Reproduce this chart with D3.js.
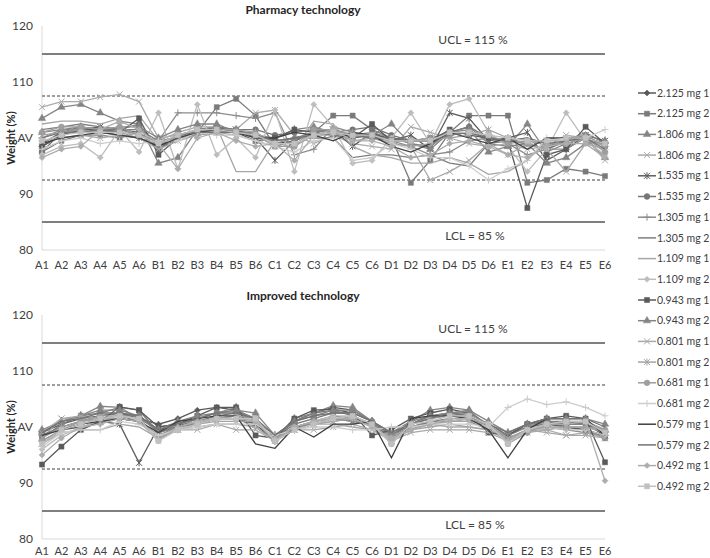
<!DOCTYPE html>
<html>
<head>
<meta charset="utf-8">
<script src="https://cdn.jsdelivr.net/npm/d3@7"></script>
<style>
  body { margin: 0; background: #fff; }
  svg { font-family: Lato, "Open Sans", sans-serif; }
</style>
</head>
<body>
<div id="chart"></div>
<script>
var categories = ["A1","A2","A3","A4","A5","A6","B1","B2","B3","B4","B5","B6",
  "C1","C2","C3","C4","C5","C6","D1","D2","D3","D4","D5","D6","E1","E2","E3","E4","E5","E6"]

var seriesNames = ["2.125 mg 1","2.125 mg 2","1.806 mg 1","1.806 mg 2","1.535 mg 1","1.535 mg 2",
  "1.305 mg 1","1.305 mg 2","1.109 mg 1","1.109 mg 2","0.943 mg 1","0.943 mg 2",
  "0.801 mg 1","0.801 mg 2","0.681 mg 1","0.681 mg 2","0.579 mg 1","0.579 mg 2",
  "0.492 mg 1","0.492 mg 2"]

var yTickValues = [80, 90, 100, 110, 120]
var yTickLabels = ["80", "90", "AV", "110", "120"]
var limits = {ucl: 115, lcl: 85, upperWarn: 107.5, lowerWarn: 92.5}

// pharmacy technology, one row per series
var pharmacy = [
  [98.5,100.5,101.5,101,100.5,100,98.5,100.5,101.5,102,101,100.5,99,99.5,101,101.5,100,100.5,100,99.5,99.5,100.5,101,100,99.5,99,98,99.5,100,98.5],
  [97.5,99.5,100.5,100.5,100,101,98,100.5,101,105.5,107,104,98.5,99.5,101,104,104,101.5,100,92,96,101,104,104,104,92,92.5,94.5,94,93.2],
  [103.5,105.5,106,104.5,103,102.5,95.5,96.5,101.5,102,101.5,100.5,100,101.5,102,101,100.5,101,100,99,98.5,101,102,99,98.5,102.5,97.5,99,100,96.5],
  [105.5,106.5,106.5,107.3,107.8,106.5,100,100.5,100.5,101,101.5,104.5,105,100.5,99,100.5,99,98.5,98,102,101,100,99,98.5,99,98,98.5,100.5,100,96],
  [99,101,101.5,102,101.5,101,98,100,101.5,101.5,101.5,100,96,99.5,101,101.5,98.5,101,99.5,100.5,98,104.5,103.5,99.5,100,101,96,98,100.5,99.5],
  [97.5,101,102,101.5,101.5,102.5,98,100.5,101,102,101.5,101.5,100.5,101,101.5,101,101.5,102,100.5,99.5,100,101,102,100,99.5,99,98,99.5,100.5,98.5],
  [100,101.5,101.5,101,101.5,100.5,99.5,104.5,104.5,104.5,104,103.5,104.5,97,98,102,101,100,99.5,98.5,97,97.5,99.5,100,99,97,98,98,100,99],
  [101.5,102,102.5,102,101.5,101.5,99.5,100,100.5,101,101,100.5,99.5,100,100,100,96.5,97,97,96.5,97,95.5,95,99,99.5,100,98.5,99.5,101,99],
  [102.5,103,103,102.5,103.5,104,99.5,101,102,102,94,94,99.5,98,103,102.5,98.5,97,96.5,95.5,95.5,96.5,95.5,93.5,94,96,99.5,99.5,100,98.5],
  [97,98.5,99,96.5,101.5,97.5,104.5,94.5,106,97,100,96.5,105,94,106,102,95.5,96,100,104.5,99,106,107,101,98.5,94,98,104.5,99.5,97],
  [98.5,100.5,101.5,101.5,101,103.5,97,100,101,101.5,101,99.5,100,101.5,101,100.5,100,102.5,99.5,99.5,99.5,101.5,100.5,100,99.5,87.5,97,98,102,99],
  [101,101.5,102,101.5,102,102,100,101.5,102.5,102.5,101,101,99,100,101,101.5,100.5,100.5,102.5,99,98,101,101.5,97.5,98.5,99,95.5,96.5,99,99.5],
  [99.5,100,100.5,100,100.5,100,98,99.5,100.5,101,100.5,99.5,98.5,98.5,100.5,101,99.5,100,99,98.5,92.5,94,96,99,97,99,98,94,99,98],
  [100.5,101,101.5,101,101,100,99,100,101,101.5,101.5,101,99,99,100.5,100.5,101,100.5,99.5,99.5,100,100,100.5,101.5,100,99,99.5,100,100.5,98.5],
  [101,102,102,101.5,102,100.5,99.5,100,101.5,101,101,100.5,98.5,98.5,101.5,101.5,100.5,100,99,98.5,99,100.5,101,100.5,99,99.5,99,99,100,97.5],
  [98,99.5,100,99,99.5,99,99.5,99.5,101,100.5,100.5,99.5,98.5,97.5,99.5,100,96,96.5,99,98,96.5,96.5,95,92.5,94.5,96,100,99.5,100,101.5],
  [99,100,100.5,101,100.5,100,98.5,100,101,101.5,101,100,100,101,100.5,99.5,101,100.5,98.5,97.5,99,101,100,99,100,98,100,100,100,99],
  [100,101,101,101.5,101,100.5,99,100.5,101,101,101,100.5,99.5,100,100.5,101,100.5,100,100,99.5,99.5,100.5,101,100,99.5,100,99,99.5,100,98],
  [96.5,98,98.5,101.5,103,101.5,99,94.5,100,101,99.5,98.5,99,96,100.5,101.5,99.5,99.5,98.5,96.5,97,99,99.5,98.5,97,96.5,98.5,99,99,96.5],
  [99.5,100.5,101,101,101,100.5,99,100.5,101.5,101.5,101,100.5,99,99,100.5,101,100.5,100.5,99.5,99.5,99.5,101,101,100.5,100,99.5,99.5,100,100,99]
]

// improved technology, one row per series
var improved = [
  [99,100.5,101.5,102,102.5,101.5,100.5,101.5,103,103.5,103,101,98.5,101,102.5,103.5,103,101,98.5,100.5,102,102,102,100,98.5,100.5,101,100.5,100.5,98.5],
  [98,100.5,102,102.5,103.5,103,99,100.5,101.5,102.5,103,101.5,98,101,102.5,103,102,100.5,98.5,100.5,102,102.5,102,100.5,98.5,100.5,101,100,99.5,98],
  [99.5,101,102,103.7,103.5,101.5,99.5,100,101.5,102.5,103.5,100.5,98,101.5,102.5,103.8,103.5,101,98.5,101,103,103.5,103,100,98.5,100.5,100.5,100.5,101,99.5],
  [98,101.5,101.5,101,101.5,101,98,99.5,100.5,101.5,102,100.5,97.5,99.5,100.5,101,101.5,100,97.5,99.5,100.5,100,100,99.5,97.5,99,99.5,98.5,99,98],
  [97,99.5,100,101,100.5,93.6,100,100.5,100.5,101.5,101.5,100.5,97.5,100,100.5,101.5,101,100.5,98,100,101,101,101.5,100,98,99.5,100.5,100,99.5,98.5],
  [98.5,100,101,102,102.5,102,99,100,101,102,102.5,101,98,100.5,101.5,102.5,102.5,101,98.5,100.5,101.5,102.5,102.5,100.5,98.5,100,100.5,101,100.5,99],
  [97.5,99.5,100.5,101.5,102,101,98.5,100,100.5,101.5,101.5,100,97.5,99.5,101,101.5,101,100.5,98.5,100,101,101,101,99.5,98,99,100,99.5,99,98.5],
  [98.5,100,101,101.5,102,102,99,100,101,101.5,102,101,98,100,101,102,101.5,100.5,98,99.5,101,101.5,101.5,100,98.5,100,101,101,100.5,99.5],
  [97,99,99.5,99.5,100.5,100,98,99.5,100,100.5,100.5,100,97.5,99.5,100.5,100.5,100,99.5,98.5,99.5,100,100.5,100,99.5,98,99.5,99.5,100,100,99.5],
  [96,98.5,100,101,102,101.5,98,100,101,101.5,102,101,97.5,100,101,102,102,100.5,97.5,99.5,100.5,101,101.5,100,97.5,99,100,99.5,99.5,98.5],
  [93.3,96.5,99.5,101,103.6,103,100,100.5,102,103.5,103.5,98.5,98,101.5,103,103.2,102.5,98.5,99.5,101.5,102.5,103.2,102.5,99,98.5,100.5,101.5,102,101.5,93.7],
  [99,101,102,103,103,102,99.5,101,102,102.5,103,102.5,98.5,101,102,103,103,101,99,101,102,102.5,103,101,99,100.5,101.5,101.5,101.5,100.5],
  [99,101.5,102,101.5,101.5,101,98.5,99.5,99.5,100.5,99.5,99.5,97.5,99.5,99.5,100,100.5,99.5,97.5,99,99.5,99.5,99.5,99,97.5,99.5,99,98.5,98.5,98],
  [98,100,101,101.5,101.5,101,98.5,99.5,100.5,101,101,101,98,99.5,100.5,101,101.5,100,98,99.5,100.5,101,101,100.5,98,99.5,100,100,100,99],
  [97.5,99.5,101,102,102,101.5,98,99.5,100.5,101.5,102,101.5,97.5,100,101,101.5,102,100.5,97,100.5,101.5,102,102,100.5,97,99,100.5,101,101,99.5],
  [96.5,99,99.5,99.5,101,100.5,98.5,99.5,100,100.5,100.5,100.5,98.5,99.5,100,100,99.5,99.5,100,100,100.5,100.5,100.5,100,103.5,105,104,104.5,103.5,102],
  [98.5,99.5,100.5,101,101.5,101,99,101,101.5,102,102,97,96.2,100,98.2,100.5,100.5,101,94.5,101.5,102,102,101.5,99.5,94.5,99.5,101.5,101.5,101.5,98.5],
  [99,101,101.5,102.5,102.5,102,99.5,100.5,101.5,102.5,102.5,101.5,98.5,101,102,102.5,102.5,101,99,100.5,101.5,102.5,102,100.5,99,100.5,101.5,101.5,101.5,100],
  [95,98,100,100.5,101.5,101,97.5,100,101,101.5,101.5,101,97.5,100,101,101.5,101.5,100,98,99.5,100.5,101.5,101.5,100.5,97.5,99.5,100.5,100.5,101,90.4],
  [97,99.5,100.5,101.5,102,101.5,97.5,99.5,100.5,101.5,101.5,101.5,97.5,99.5,100.5,101.5,102,100.5,97,100.5,101,102,102,100.5,97,99.5,100.5,101,101,99]
]

var seriesColors = ["#595959","#7a7a7a","#858585","#ababab","#5e5e5e","#767676","#8c8c8c","#7f7f7f","#a6a6a6","#bdbdbd",
  "#5a5a5a","#848484","#a8a8a8","#a3a3a3","#9e9e9e","#cccccc","#404040","#737373","#adadad","#c0c0c0"]
var seriesMarkers = ["diamond","square","triangle","x","star","circle","plus","none","none","diamond",
  "square","triangle","x","star","circle","plus","none","none","diamond","square"]

var width = 710, height = 558
var xLeft = 42, xRight = 605

var svg = d3.select("#chart").append("svg")
    .attr("width", width)
    .attr("height", height)

var x = d3.scalePoint().domain(categories).range([xLeft, xRight])

function markerPath(kind) {
  var s = 3
  if (kind == "diamond") return "M0," + (-s) + "L" + s + ",0L0," + s + "L" + (-s) + ",0Z"
  if (kind == "square") return d3.symbol(d3.symbolSquare, 26)()
  if (kind == "triangle") return d3.symbol(d3.symbolTriangle, 24)()
  if (kind == "circle") return d3.symbol(d3.symbolCircle, 26)()
  if (kind == "x") return "M-3,-3L3,3M-3,3L3,-3"
  if (kind == "star") return "M-3,-3L3,3M-3,3L3,-3M0,-3.5L0,3.5"
  if (kind == "plus") return "M-3.5,0L3.5,0M0,-3.5L0,3.5"
  return null
}

function drawPanel(data, title, top, bottom, titleY, labelGap) {
  var y = d3.scaleLinear().domain([80, 120]).range([bottom, top])
  var g = svg.append("g")

  // axes lines
  g.append("line").attr("x1", xLeft).attr("x2", xLeft).attr("y1", y(120)).attr("y2", y(80))
    .attr("stroke", "#d9d9d9").attr("stroke-width", 1)
  g.append("line").attr("x1", xLeft).attr("x2", xRight).attr("y1", y(80)).attr("y2", y(80))
    .attr("stroke", "#d9d9d9").attr("stroke-width", 1)

  g.selectAll(".ytick").data(yTickValues).enter().append("text")
    .attr("x", 33).attr("y", function(d) { return y(d) })
    .attr("dy", "0.35em").attr("text-anchor", "end")
    .attr("font-size", 12).attr("fill", "#404040")
    .text(function(d, i) { return yTickLabels[i] })

  g.selectAll(".xtick").data(categories).enter().append("text")
    .attr("x", function(d) { return x(d) }).attr("y", y(80) + labelGap)
    .attr("dy", "0.35em").attr("text-anchor", "middle")
    .attr("font-size", 11).attr("fill", "#404040")
    .text(function(d) { return d })

  // control limits
  ;[limits.ucl, limits.lcl].forEach(function(v) {
    g.append("line").attr("x1", xLeft).attr("x2", xRight).attr("y1", y(v)).attr("y2", y(v))
      .attr("stroke", "#7f7f7f").attr("stroke-width", 2)
  })
  ;[limits.upperWarn, limits.lowerWarn].forEach(function(v) {
    g.append("line").attr("x1", xLeft).attr("x2", xRight).attr("y1", y(v)).attr("y2", y(v))
      .attr("stroke", "#7f7f7f").attr("stroke-width", 1.5).attr("stroke-dasharray", "3,2")
  })

  g.append("text").attr("x", 473).attr("y", y(limits.ucl) - 14).attr("dy", "0.35em")
    .attr("text-anchor", "middle").attr("font-size", 12).attr("fill", "#404040")
    .text("UCL = 115 %")
  g.append("text").attr("x", 475).attr("y", y(limits.lcl) + 14).attr("dy", "0.35em")
    .attr("text-anchor", "middle").attr("font-size", 12).attr("fill", "#404040")
    .text("LCL = 85 %")

  g.append("text").attr("x", 303).attr("y", titleY).attr("dy", "0.35em")
    .attr("text-anchor", "middle").attr("font-size", 12).attr("font-weight", "bold")
    .attr("fill", "#262626").text(title)

  g.append("text")
    .attr("transform", "translate(11," + y(100) + ") rotate(-90)")
    .attr("dy", "0.35em").attr("text-anchor", "middle")
    .attr("font-size", 11).attr("font-weight", "bold").attr("fill", "#262626")
    .text("Weight (%)")

  var line = d3.line()
    .x(function(d, i) { return x(categories[i]) })
    .y(function(d) { return y(d) })

  data.forEach(function(vals, si) {
    var c = seriesColors[si]
    g.append("path").datum(vals).attr("d", line)
      .attr("fill", "none").attr("stroke", c).attr("stroke-width", 1.3)
    var m = markerPath(seriesMarkers[si])
    if (m) {
      var open = ["x", "star", "plus"].indexOf(seriesMarkers[si]) >= 0
      g.selectAll(null).data(vals).enter().append("path")
        .attr("d", m)
        .attr("transform", function(d, i) { return "translate(" + x(categories[i]) + "," + y(d) + ")" })
        .attr("fill", open ? "none" : c)
        .attr("stroke", c).attr("stroke-width", open ? 1 : 0.5)
    }
  })
}

drawPanel(pharmacy, "Pharmacy technology", 26, 250, 10, 15)
drawPanel(improved, "Improved technology", 315, 539, 296, 12)

// legend
var legend = svg.append("g")
seriesNames.forEach(function(name, i) {
  var ly = 93 + i * 20.7
  var c = seriesColors[i]
  legend.append("line").attr("x1", 638).attr("x2", 656).attr("y1", ly).attr("y2", ly)
    .attr("stroke", c).attr("stroke-width", 1.5)
  var m = markerPath(seriesMarkers[i])
  if (m) {
    var open = ["x", "star", "plus"].indexOf(seriesMarkers[i]) >= 0
    legend.append("path").attr("d", m).attr("transform", "translate(647," + ly + ")")
      .attr("fill", open ? "none" : c).attr("stroke", c).attr("stroke-width", open ? 1 : 0.5)
  }
  legend.append("text").attr("x", 657).attr("y", ly).attr("dy", "0.35em")
    .attr("font-size", 10.5).attr("fill", "#404040").text(name)
})
</script>
</body>
</html>
